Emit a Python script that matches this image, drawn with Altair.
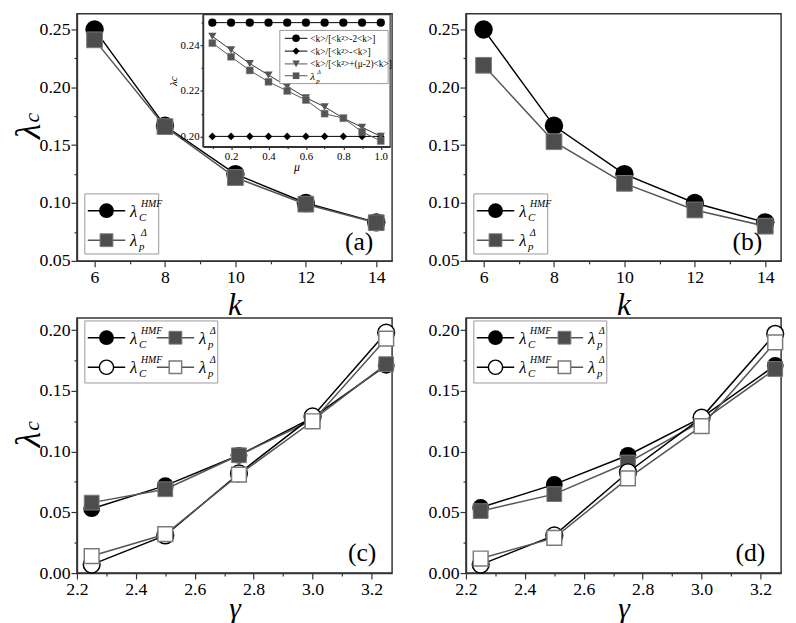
import altair as alt
import pandas as pd

# ---------------- data ----------------
k_vals = [6, 8, 10, 12, 14]
a_lam_hmf = [0.250, 0.1667, 0.125, 0.100, 0.0833]
a_lam_pdelta = [0.241, 0.166, 0.122, 0.099, 0.083]
b_lam_hmf = [0.250, 0.1667, 0.125, 0.100, 0.0833]
b_lam_pdelta = [0.219, 0.153, 0.117, 0.094, 0.080]

gamma_vals = [2.25, 2.50, 2.75, 3.00, 3.25]
c_hmf_filled = [0.053, 0.072, 0.097, 0.128, 0.171]
c_pd_filled = [0.058, 0.069, 0.097, 0.126, 0.172]
c_hmf_open = [0.007, 0.031, 0.082, 0.129, 0.198]
c_pd_open = [0.014, 0.032, 0.081, 0.125, 0.193]
d_hmf_filled = [0.054, 0.073, 0.097, 0.128, 0.171]
d_pd_filled = [0.051, 0.065, 0.091, 0.125, 0.168]
d_hmf_open = [0.007, 0.031, 0.083, 0.128, 0.197]
d_pd_open = [0.012, 0.029, 0.078, 0.121, 0.190]

mu_vals = [0.1, 0.2, 0.3, 0.4, 0.5, 0.6, 0.7, 0.8, 0.9, 1.0]
inset_k2k = [0.25, 0.25, 0.25, 0.25, 0.25, 0.25, 0.25, 0.25, 0.25, 0.25]
inset_kk = [0.20, 0.20, 0.20, 0.20, 0.20, 0.20, 0.20, 0.20, 0.20, 0.20]
inset_mu = [0.244, 0.238, 0.232, 0.227, 0.222, 0.217, 0.213, 0.208, 0.204, 0.200]
inset_pdelta = [0.241, 0.235, 0.229, 0.224, 0.220, 0.216, 0.210, 0.208, 0.202, 0.198]
inset_labels = ["<k>/[<k²>-2<k>]", "<k>/[<k²>-<k>]", "<k>/[<k²>+(μ-2)<k>]"]

k_ticks = [6, 7, 8, 9, 10, 11, 12, 13, 14]
ab_y_ticks = [0.05, 0.075, 0.1, 0.125, 0.15, 0.175, 0.2, 0.225, 0.25]
g_ticks = [2.2, 2.3, 2.4, 2.5, 2.6, 2.7, 2.8, 2.9, 3.0, 3.1, 3.2]
cd_y_ticks = [0.0, 0.025, 0.05, 0.075, 0.1, 0.125, 0.15, 0.175, 0.2]
mu_ticks = [0.1, 0.2, 0.3, 0.4, 0.5, 0.6, 0.7, 0.8, 0.9, 1.0]
inset_y_ticks = [0.20, 0.21, 0.22, 0.23, 0.24, 0.25]

# ---------------- style ----------------
FONT = "Liberation Serif, Times New Roman, serif"
W = 320
H1 = 251
H2 = 259
BLACK = "#000000"
GFILL = "#4d4d4d"
GEDGE = "#7a7a7a"
GLINE = "#555555"
AX = "#333333"
ONE = pd.DataFrame({"o": [0]})


def lin(domain, rng=None):
    if rng is None:
        return alt.Scale(domain=domain, nice=False, zero=False)
    return alt.Scale(domain=domain, range=rng, nice=False, zero=False)


def make_axis(values, test, fmt, big=6, small=3, label_size=18, label_pad=2, **kw):
    return alt.Axis(values=values, format=fmt,
                    labelExpr=f"({test}) ? datum.label : ''",
                    tickSize={"condition": {"test": test, "value": big}, "value": small},
                    labelFont=FONT, labelFontSize=label_size, labelColor="black",
                    labelPadding=label_pad, labelOverlap=False, labelFlush=False,
                    tickColor=AX, tickWidth=1.2, domainColor=AX, domainWidth=1.5,
                    grid=False, **kw)


def text_px(x, y, s, size, italic=True, align="left", baseline="alphabetic", angle=0, color="black"):
    kw = dict(text=s, font=FONT, fontSize=size, align=align, baseline=baseline, color=color)
    if italic:
        kw["fontStyle"] = "italic"
    if angle:
        kw["angle"] = angle
    return alt.Chart(ONE).mark_text(**kw).encode(x=alt.value(x), y=alt.value(y))


def rule_px(x1, x2, y, color, width):
    return alt.Chart(ONE).mark_rule(color=color, strokeWidth=width).encode(
        x=alt.value(x1), x2=alt.value(x2), y=alt.value(y))


def rect_px(x1, y1, x2, y2, stroke, fill, sw=1.0):
    return alt.Chart(ONE).mark_rect(stroke=stroke, fill=fill, strokeWidth=sw).encode(
        x=alt.value(x1), x2=alt.value(x2), y=alt.value(y1), y2=alt.value(y2))


def point_px(x, y, shape, size, fill, stroke, sw):
    return alt.Chart(ONE).mark_point(shape=shape, size=size, filled=True, fill=fill,
                                     stroke=stroke, strokeWidth=sw, opacity=1).encode(
        x=alt.value(x), y=alt.value(y))


def series(xs, ys, X, Y, shape, size, fill, stroke, sw, line_color, line_w=1.5):
    df = pd.DataFrame({"x": xs, "y": ys})
    base = alt.Chart(df)
    line = base.mark_line(color=line_color, strokeWidth=line_w).encode(x=X, y=Y)
    pts = base.mark_point(shape=shape, size=size, filled=True, fill=fill, stroke=stroke,
                          strokeWidth=sw, opacity=1).encode(x=X, y=Y)
    return [line, pts]


def lam_label(x, y, sub, sup, big=17, subsz=11, supsz=10):
    return [text_px(x, y + 6, "λ", big),
            text_px(x + 9, y + 10, sub, subsz),
            text_px(x + 11, y - 4, sup, supsz)]


def legend_entry(cx, cy, shape, size, fill, stroke, sw, line_color, sub, sup):
    return ([rule_px(cx - 19, cx + 19, cy, line_color, 1.5),
             point_px(cx, cy, shape, size, fill, stroke, sw)]
            + lam_label(cx + 24, cy, sub, sup))


def ytitle(H):
    yc = H / 2 - 6
    return [text_px(-38, yc, "λ", 36, align="center", angle=270),
            text_px(-39, yc - 9, "c", 22, align="left", angle=270)]


def panel_ab(hmf, pdelta, label, left):
    X = alt.X("x:Q", scale=lin([5.5, 14.45]),
              axis=make_axis(k_ticks, "datum.value % 2 == 0", "d", title="k",
                             titleFont=FONT, titleFontSize=32, titleFontStyle="italic",
                             titleFontWeight="normal", titleColor="black", titlePadding=3))
    Y = alt.Y("y:Q", scale=lin([0.05, 0.2636]),
              axis=make_axis(ab_y_ticks, "abs(datum.value*20 - round(datum.value*20)) < 0.001",
                             ".2f", label_pad=1, title=None))
    layers = []
    layers += series(k_vals, hmf, X, Y, "circle", 350, BLACK, BLACK, 0, BLACK)
    layers += series(k_vals, pdelta, X, Y, "square", 256, GFILL, GEDGE, 1, GLINE)
    layers.append(rect_px(8, H1 - 68, 83, H1 - 7, "#999999", "white", 1))
    layers += legend_entry(30, H1 - 51, "circle", 225, BLACK, BLACK, 0, BLACK, "C", "HMF")
    layers += legend_entry(30, H1 - 21, "square", 170, GFILL, GEDGE, 1, GLINE, "p", "Δ")
    layers.append(text_px(W - 19, H1 - 11, label, 26, italic=False, align="right"))
    if left:
        layers += ytitle(H1)
    return alt.layer(*layers)


def inset_a():
    IX0, IX1, IY0, IY1 = 128, 318, 1, 135
    mtest_x = "abs(datum.value*5 - round(datum.value*5)) < 0.001"
    mtest_y = "abs(datum.value*50 - round(datum.value*50)) < 0.001"
    X = alt.X("x:Q", scale=lin([0.05, 1.05], [IX0, IX1]),
              axis=make_axis(mu_ticks, mtest_x, ".1f", big=3, small=2, label_size=11,
                             label_pad=1, orient="bottom", offset=IY1 - H1, zindex=1,
                             title="μ", titleFont=FONT, titleFontSize=12,
                             titleFontStyle="italic", titleFontWeight="normal",
                             titleColor="black", titlePadding=0))
    Y = alt.Y("y:Q", scale=lin([0.1955, 0.2535], [IY1, IY0]),
              axis=make_axis(inset_y_ticks, mtest_y, ".2f", big=3, small=2, label_size=11,
                             label_pad=1, orient="left", offset=-IX0, zindex=1,
                             title="λc", titleFont=FONT, titleFontSize=11,
                             titleFontStyle="italic", titleFontWeight="normal",
                             titleColor="black", titlePadding=2))
    layers = [rect_px(IX0, IY0, IX1, IY1, AX, "white", 1.2)]
    layers += series(mu_vals, inset_k2k, X, Y, "circle", 70, BLACK, BLACK, 0, BLACK, 1)
    layers += series(mu_vals, inset_kk, X, Y, "diamond", 60, BLACK, BLACK, 0, BLACK, 1)
    layers += series(mu_vals, inset_mu, X, Y, "triangle-down", 70, GLINE, GLINE, 0, "#333333", 1)
    layers += series(mu_vals, inset_pdelta, X, Y, "square", 50, GLINE, GEDGE, 0.5, GLINE, 1)
    # legend
    layers.append(rect_px(206, 17, 316, 71, "#999999", "white", 1))
    rows = [25, 38, 51, 63]
    syms = [("circle", 60, BLACK, BLACK), ("diamond", 55, BLACK, BLACK),
            ("triangle-down", 60, GLINE, GLINE), ("square", 45, GLINE, GLINE)]
    for i, (shape, size, fill, lc) in enumerate(syms):
        layers.append(rule_px(211, 234, rows[i], lc, 1))
        layers.append(point_px(222.5, rows[i], shape, size, fill, fill, 0))
    for i, lab in enumerate(inset_labels):
        layers.append(text_px(237, rows[i] + 3.5, lab, 9.5, italic=False))
    layers.append(text_px(237, rows[3] + 4, "λ", 11))
    layers.append(text_px(243, rows[3] + 7, "p", 7))
    layers.append(text_px(244, rows[3] - 2, "Δ", 6))
    return alt.layer(*layers)


def panel_cd(hf, pf, ho, po, label, left):
    X = alt.X("x:Q", scale=lin([2.2, 3.27]),
              axis=make_axis(g_ticks, "abs(datum.value*5 - round(datum.value*5)) < 0.001", ".1f",
                             title="γ", titleFont=FONT, titleFontSize=30, titleFontStyle="italic",
                             titleFontWeight="normal", titleColor="black", titlePadding=-5))
    Y = alt.Y("y:Q", scale=lin([0.0, 0.21]),
              axis=make_axis(cd_y_ticks, "abs(datum.value*20 - round(datum.value*20)) < 0.001",
                             ".2f", label_pad=1, title=None))
    layers = []
    layers += series(gamma_vals, hf, X, Y, "circle", 290, BLACK, BLACK, 0, BLACK)
    layers += series(gamma_vals, pf, X, Y, "square", 225, GFILL, GEDGE, 1, GLINE)
    layers += series(gamma_vals, ho, X, Y, "circle", 290, "white", BLACK, 1.5, BLACK)
    layers += series(gamma_vals, po, X, Y, "square", 225, "white", GEDGE, 1.5, GLINE)
    layers.append(rect_px(8, 3, 143, 66, "#999999", "white", 1))
    layers += legend_entry(30, 20, "circle", 225, BLACK, BLACK, 0, BLACK, "C", "HMF")
    layers += legend_entry(100, 20, "square", 170, GFILL, GEDGE, 1, GLINE, "p", "Δ")
    layers += legend_entry(30, 50, "circle", 210, "white", BLACK, 1.5, BLACK, "C", "HMF")
    layers += legend_entry(100, 50, "square", 160, "white", GEDGE, 1.5, GLINE, "p", "Δ")
    layers.append(text_px(W - 16, H2 - 12, label, 26, italic=False, align="right"))
    if left:
        layers += ytitle(H2)
    return alt.layer(*layers)


pa = alt.layer(panel_ab(a_lam_hmf, a_lam_pdelta, "(a)", True), inset_a()).resolve_scale(
    x="independent", y="independent").resolve_axis(x="independent", y="independent").properties(width=W, height=H1)
pb = panel_ab(b_lam_hmf, b_lam_pdelta, "(b)", False).properties(width=W, height=H1)
pc = panel_cd(c_hmf_filled, c_pd_filled, c_hmf_open, c_pd_open, "(c)", True).properties(width=W, height=H2)
pd_ = panel_cd(d_hmf_filled, d_pd_filled, d_hmf_open, d_pd_open, "(d)", False).properties(width=W, height=H2)

chart = alt.concat(
    pa, pb, pc, pd_, columns=2,
    spacing={"row": 58, "column": 75}, bounds="flush",
).properties(padding={"left": 2, "top": 0, "right": 0, "bottom": 0},
             background="white").configure_view(stroke=AX, strokeWidth=1.5)

chart.save("out.html", embed_options={"renderer": "svg", "actions": False})
